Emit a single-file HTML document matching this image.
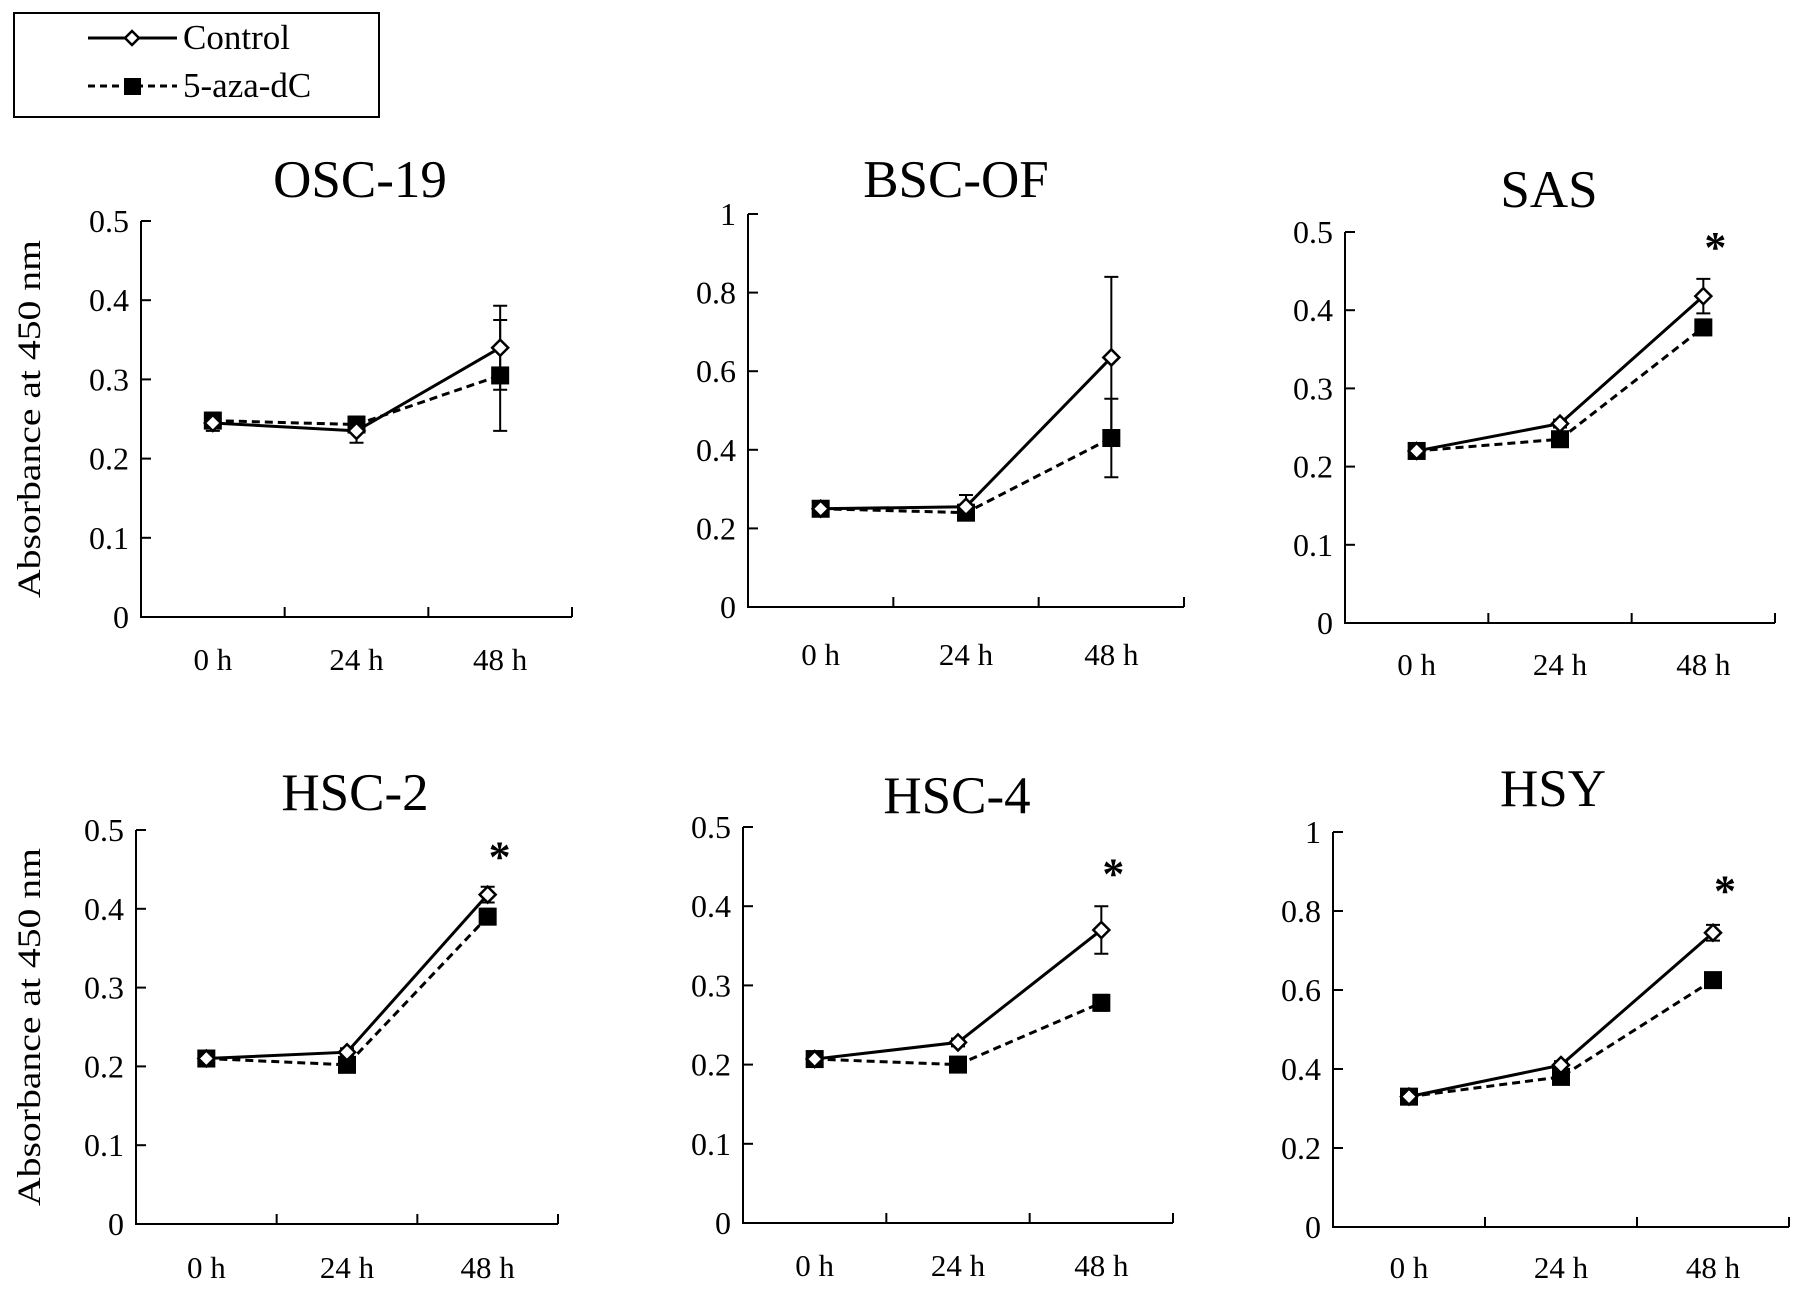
<!DOCTYPE html>
<html><head><meta charset="utf-8">
<style>
html,body{margin:0;padding:0;background:#fff;}
svg{display:block;font-family:"Liberation Serif","DejaVu Serif",serif;}
</style></head>
<body>
<svg id="fig" width="1795" height="1290" viewBox="0 0 1795 1290" xmlns="http://www.w3.org/2000/svg">
  <g>
    <rect x="14" y="13" width="365" height="104" fill="#fff" stroke="#000" stroke-width="2"/>
    <line x1="88" y1="38" x2="177" y2="38" stroke="#000" stroke-width="3"/>
    <path d="M132,31 L139,38 L132,45 L125,38 Z" fill="#fff" stroke="#000" stroke-width="2.5"/>
    <text x="183" y="49" font-size="35">Control</text>
    <line x1="88" y1="86" x2="177" y2="86" stroke="#000" stroke-width="3" stroke-dasharray="7,5"/>
    <rect x="124" y="78" width="17" height="17" fill="#000"/>
    <text x="183" y="97" font-size="35">5-aza-dC</text>
  </g>
</svg>
<script>
const categories = ["0 h","24 h","48 h"];
const panelNames = ["OSC-19","BSC-OF","SAS","HSC-2","HSC-4","HSY"];
const yMaxes = [0.5,1,0.5,0.5,0.5,1];
const yTicksSmall = ["0","0.1","0.2","0.3","0.4","0.5"];
const yTicksLarge = ["0","0.2","0.4","0.6","0.8","1"];
const controlValues = [[0.245,0.235,0.34],[0.25,0.255,0.635],[0.22,0.255,0.418],[0.21,0.218,0.418],[0.207,0.228,0.37],[0.33,0.41,0.745]];
const controlErrors = [[0.01,0.015,0.053],[0.005,0.03,0.205],[0.005,0.005,0.022],[0.005,0.005,0.01],[0.005,0.005,0.03],[0.01,0.01,0.02]];
const azaValues = [[0.248,0.243,0.305],[0.25,0.24,0.43],[0.22,0.235,0.378],[0.21,0.202,0.39],[0.207,0.2,0.278],[0.33,0.38,0.625]];
const azaErrors = [[0.01,0.01,0.07],[0.005,0.005,0.10],[0.005,0.005,0.01],[0.005,0.005,0.01],[0.005,0.005,0.01],[0.01,0.01,0.01]];
const starValues = [null,null,0.49,0.475,0.45,0.87];

const layouts = [
  {x0:141,x1:572,yTop:221,yBot:617,titleX:360,titleY:197,labY:670},
  {x0:748,x1:1184,yTop:214,yBot:607,titleX:956,titleY:197,labY:665},
  {x0:1345,x1:1775,yTop:232,yBot:623,titleX:1549,titleY:207,labY:675},
  {x0:136,x1:558,yTop:830,yBot:1224,titleX:355,titleY:810,labY:1278},
  {x0:743,x1:1173,yTop:827,yBot:1223,titleX:957,titleY:813,labY:1276},
  {x0:1333,x1:1789,yTop:832,yBot:1227,titleX:1553,titleY:806,labY:1278}
];
const NS="http://www.w3.org/2000/svg";
const svg=document.getElementById('fig');
function mk(tag,attrs,parent){const e=document.createElementNS(NS,tag);for(const k in attrs)e.setAttribute(k,attrs[k]);parent.appendChild(e);return e;}

panelNames.forEach((name,p)=>{
  const L=layouts[p];
  const g=mk('g',{},svg);
  
  
  const yMax=yMaxes[p];
  const ticks = yMax===1?yTicksLarge:yTicksSmall;
  const yS=v=>L.yBot-(v/yMax)*(L.yBot-L.yTop);
  const cw=(L.x1-L.x0)/categories.length;
  const xS=i=>L.x0+cw*(i+0.5);
  const t=mk('text',{x:L.titleX,y:L.titleY,'font-size':53,'text-anchor':'middle'},g);
  t.textContent=name;
  
  
  const ax=mk('path',{d:`M${L.x0},${L.yTop} L${L.x0},${L.yBot} L${L.x1},${L.yBot}`,fill:'none',stroke:'#000','stroke-width':2},g);
  
  
  ticks.forEach(lbl=>{
    const v=parseFloat(lbl), y=yS(v);
    mk('line',{x1:L.x0,y1:y,x2:L.x0+10,y2:y,stroke:'#000','stroke-width':2},g);
    const tl=mk('text',{x:L.x0-12,y:y+11,'font-size':32,'text-anchor':'end'},g);
    tl.textContent=lbl;
    
    
  });
  for(let i=1;i<=categories.length;i++){
    const x=L.x0+cw*i;
    mk('line',{x1:x,y1:L.yBot,x2:x,y2:L.yBot-10,stroke:'#000','stroke-width':2},g);
  }
  categories.forEach((c,i)=>{
    const tl=mk('text',{x:xS(i),y:L.labY,'font-size':31,'text-anchor':'middle'},g);
    tl.textContent=c;
    
    
  });
  if(p===0||p===3){
    const yt=mk('text',{transform:`translate(40,${(L.yTop+L.yBot)/2}) rotate(-90)`,'font-size':33,'text-anchor':'middle',textLength:358,lengthAdjust:'spacingAndGlyphs'},g);
    yt.textContent='Absorbance at 450 nm';
    
    
  }
  [[azaValues,azaErrors],[controlValues,controlErrors]].forEach(([vals,errs])=>{
    vals[p].forEach((v,i)=>{
      const x=xS(i),e=errs[p][i];
      const eb=mk('path',{d:`M${x},${yS(v-e)} L${x},${yS(v+e)} M${x-7},${yS(v-e)} L${x+7},${yS(v-e)} M${x-7},${yS(v+e)} L${x+7},${yS(v+e)}`,stroke:'#000','stroke-width':2,fill:'none'},g);
      
      
    });
  });
  const aza=mk('polyline',{points:azaValues[p].map((v,i)=>xS(i)+','+yS(v)).join(' '),fill:'none',stroke:'#000','stroke-width':3,'stroke-dasharray':'8,5'},g);
  
  
  const ctl=mk('polyline',{points:controlValues[p].map((v,i)=>xS(i)+','+yS(v)).join(' '),fill:'none',stroke:'#000','stroke-width':3},g);
  
  
  azaValues[p].forEach((v,i)=>{
    const r=mk('rect',{x:xS(i)-9,y:yS(v)-9,width:18,height:18,fill:'#000'},g);
    
    
  });
  controlValues[p].forEach((v,i)=>{
    const x=xS(i),y=yS(v);
    const d=mk('path',{d:`M${x},${y-8} L${x+8},${y} L${x},${y+8} L${x-8},${y} Z`,fill:'#fff',stroke:'#000','stroke-width':2.5},g);
    
    
  });
  if(starValues[p]!==null){
    const s=mk('text',{x:xS(2)+12,y:yS(starValues[p])+22,'font-size':44,'font-weight':'bold','text-anchor':'middle'},g);
    s.textContent='*';
    
    
  }
});
</script>
</body></html>
